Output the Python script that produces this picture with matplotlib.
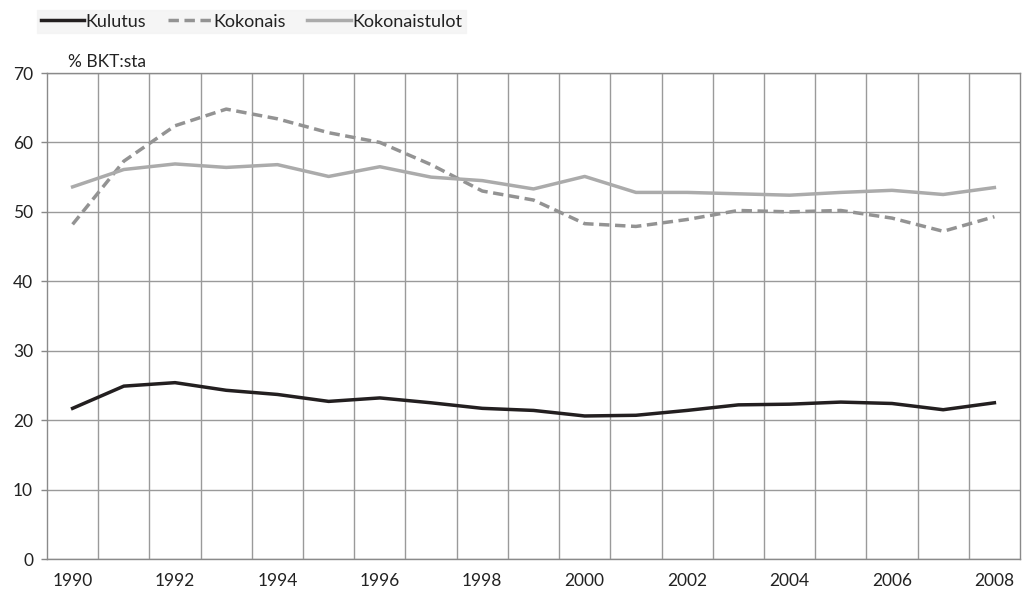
import matplotlib
matplotlib.use("Agg")
import matplotlib.pyplot as plt
import numpy as np

years = list(range(1990, 2009))
kulutus = [21.7, 24.9, 25.4, 24.3, 23.7, 22.7, 23.2, 22.5, 21.7, 21.4,
           20.6, 20.7, 21.4, 22.2, 22.3, 22.6, 22.4, 21.5, 22.5]
kokonais = [48.2, 57.3, 62.4, 64.8, 63.4, 61.4, 60.0, 56.8, 53.0, 51.7,
            48.3, 47.9, 48.9, 50.2, 50.0, 50.2, 49.1, 47.2, 49.3]
kokonaistulot = [53.6, 56.1, 56.9, 56.4, 56.8, 55.1, 56.5, 55.0, 54.5, 53.3,
                 55.1, 52.8, 52.8, 52.6, 52.4, 52.8, 53.1, 52.5, 53.5]
xtick_labels = [str(y) for y in range(1990, 2009, 2)]
yticks = [0, 10, 20, 30, 40, 50, 60, 70]

plt.rcParams['font.family'] = ['Lato', 'DejaVu Sans']

fig = plt.figure(figsize=(10.23, 5.95), dpi=100)
ax = fig.add_axes([47/1023, 1 - 559/595, (1020-47)/1023, (559-73)/595])

grid_c = '#9a9a9a'
ax.set_xlim(1989.5, 2008.5)
ax.set_ylim(0, 70)
ax.set_yticks(yticks)
ax.set_xticks(list(range(1990, 2009, 2)))
ax.set_xticklabels(xtick_labels)
ax.set_xticks(np.arange(1990.5, 2008.5, 1), minor=True)
ax.grid(True, axis='y', color=grid_c, lw=1)
ax.grid(True, axis='x', which='minor', color=grid_c, lw=1)
ax.tick_params(axis='x', which='both', length=0, pad=10, labelsize=12.5, colors='#222222')
ax.tick_params(axis='y', length=4, width=1, color='#888888', pad=6, labelsize=12.5, labelcolor='#222222')
for s in ax.spines.values():
    s.set_color('#8a8a8a')
    s.set_linewidth(1)
ax.set_axisbelow(True)

l1, = ax.plot(years, kulutus, color='#231f20', lw=2.5, label='Kulutus')
l2, = ax.plot(years, kokonais, color='#939393', lw=2.5, ls=(0, (3, 1.6)), label='Kokonais')
l3, = ax.plot(years, kokonaistulot, color='#ababab', lw=2.5, label='Kokonaistulot')

fig.text(68/1023, 1 - 62/595, '% BKT:sta', fontsize=12.5, color='#222222', va='center', ha='left')

leg = fig.legend(handles=[l1, l2, l3], loc='upper left', bbox_to_anchor=(28/1023, 1 - 1/595),
                 ncol=3, frameon=True, fontsize=13, handlelength=2.4, handletextpad=0.1,
                 columnspacing=1.2, borderpad=0.2, fancybox=False)
leg.get_frame().set_facecolor('#f3f3f3')
leg.get_frame().set_edgecolor('#f3f3f3')
for t in leg.get_texts():
    t.set_color('#222222')

fig.savefig('out.png', dpi=100)
